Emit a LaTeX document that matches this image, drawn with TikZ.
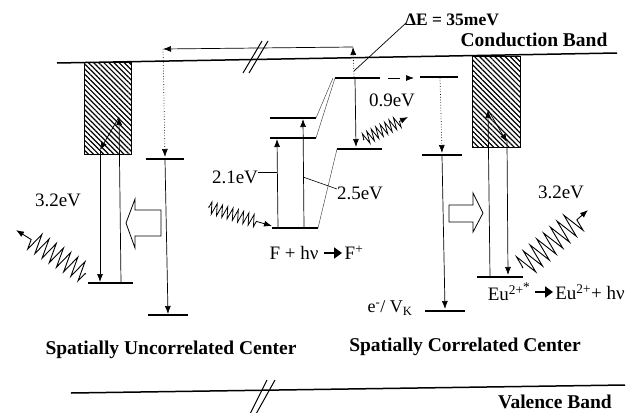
\documentclass[tikz,border=0pt]{standalone}
\usepackage{fontspec}
\setmainfont{Liberation Serif}
\usetikzlibrary{arrows.meta,patterns.meta,decorations.pathmorphing}
\begin{document}
\begin{tikzpicture}[x=1pt,y=-1pt,
  lvl/.style={line width=2.6pt},
  band/.style={line width=1.5pt},
  tr/.style={line width=0.7pt,-{Latex[length=8pt,width=6pt]}},
  dotl/.style={line width=0.7pt,dotted},
  thinl/.style={line width=0.45pt,black!75},
  lbl/.style={font=\fontsize{19}{22}\selectfont,inner sep=0pt},
  blbl/.style={font=\fontsize{19.5}{22}\selectfont\bfseries,inner sep=0pt},
  hatch/.style={draw,line width=0.8pt,pattern={Lines[angle=-45,distance=3.6pt,line width=1.2pt]}},
  hollow/.style={draw,line width=0.8pt,fill=white},
  brk/.style={line width=1pt},
  fat/.style={line width=2.4pt,-{Triangle[length=8pt,width=11pt]}},
  wave/.style={line width=0.9pt,decorate,-{Latex[length=8pt,width=6pt]}},
]
\useasboundingbox (0,0) rectangle (636,412);

% bands
\coordinate (cbL) at (57,63); \coordinate (cbR) at (617,53);
\coordinate (vbL) at (71,393); \coordinate (vbR) at (625,385);
\draw[band] (cbL) -- (cbR);
\draw[band] (vbL) -- (vbR);
\draw[brk] (243,73) -- (262,41);
\draw[brk] (249,73) -- (268,41);
\draw[brk] (250,414) -- (267,380);
\draw[brk] (256,414) -- (275,380);

\node[blbl] (cbt) at (534,40) {Conduction Band};
\node[blbl] (vbt) at (555,402) {Valence Band};

% ---- left: spatially uncorrelated
\draw[hatch] (84,62) rectangle (131,154);
\coordinate (L1a) at (88,283); \coordinate (L1b) at (133,283);
\coordinate (L2a) at (146,159); \coordinate (L2b) at (184,159);
\coordinate (L3a) at (148,315); \coordinate (L3b) at (188,315);
\draw[lvl] (L1a) -- (L1b);
\draw[lvl] (L2a) -- (L2b);
\draw[lvl] (L3a) -- (L3b);
\coordinate (lu0) at (121,283); \coordinate (lu1) at (119,117);
\coordinate (ld0) at (100,150); \coordinate (ld1) at (100,282);
\draw[tr] (lu0) -- (lu1);
\draw[tr] (lu1) -- (ld0);
\draw[tr] (ld0) -- (ld1);
\coordinate (topL) at (163,49); \coordinate (topR) at (353,47);
\coordinate (l2top) at (165,157);
\draw[dotl,-{Latex[length=8pt,width=6pt]}] (topL) -- (l2top);
\draw[tr] (165,160) -- (168,314);
\draw[hollow] (126,223) -- (135,199) -- (135,210) -- (161,210) -- (161,236) -- (135,236) -- (135,248) -- cycle;
\coordinate (lw0) at (86,274); \coordinate (lw1) at (16,230);
\draw[wave,decoration={zigzag,segment length=8.5pt,amplitude=10pt,pre length=1pt,post length=16pt}] (lw0) -- (lw1);
\node[lbl] (e32l) at (58,200) {3.2eV};
\node[blbl] (unc) at (171,350) {Spatially Uncorrelated Center};

% ---- center: F centre
\coordinate (F0a) at (272,228); \coordinate (F0b) at (318,228);
\coordinate (F1a) at (270,138); \coordinate (F1b) at (316,138);
\coordinate (F2a) at (270,118); \coordinate (F2b) at (316,118);
\draw[lvl] (F0a) -- (F0b);
\draw[lvl] (F1a) -- (F1b);
\draw[lvl] (F2a) -- (F2b);
\draw[tr] (278,228) -- (277,139);
\draw[tr] (304,228) -- (303,119);
\coordinate (C1a) at (335,78); \coordinate (C1b) at (380,78);
\coordinate (C5a) at (337,149); \coordinate (C5b) at (382,149);
\draw[lvl] (C1a) -- (C1b);
\draw[lvl] (C5a) -- (C5b);
\draw[thinl] (F2b) -- (333,78);
\draw[thinl] (F1b) -- (C1a);
\draw[thinl] (F0b) -- (C5a);
\draw[tr] (355,79) -- (356,147);
\draw[dotl,-{Latex[length=8pt,width=6pt]}] (354,77) -- (topR);
\draw[tr] (topR) -- (topL);
\draw[line width=0.7pt] (354,71) -- (406,23);
\node[blbl,font=\fontsize{17.5}{20}\selectfont\bfseries] (de) at (452,20) {ΔE = 35meV};
\draw[line width=0.7pt,dash pattern=on 12pt off 6pt,-{Latex[length=8pt,width=6pt]}] (388,78) -- (414,78);
\node[lbl] (e21) at (235,177) {2.1eV};
\draw[line width=0.6pt] (258,172) -- (277,172);
\node[lbl] (e25) at (360,193) {2.5eV};
\draw[line width=0.6pt] (303,177) -- (337,189);
\node[lbl] (e09) at (392,100) {0.9eV};
\coordinate (cw0) at (208,207); \coordinate (cw1) at (272,226);
\draw[wave,line width=0.8pt,decoration={zigzag,segment length=5.5pt,amplitude=6pt,pre length=1pt,post length=15pt}] (cw0) -- (cw1);
\coordinate (nw0) at (363,140); \coordinate (nw1) at (408,117);
\draw[wave,line width=0.8pt,decoration={zigzag,segment length=5pt,amplitude=6pt,pre length=1pt,post length=9pt}] (nw0) -- (nw1);
\node[lbl] (fl) at (294,253) {F + hν};
\node[lbl] (fr) at (354,253) {F\textsuperscript{+}};
\draw[fat] (324,253) -- (342,253);

% ---- right: spatially correlated
\coordinate (C2a) at (420,77); \coordinate (C2b) at (458,77);
\coordinate (C3a) at (422,155); \coordinate (C3b) at (462,155);
\coordinate (C4a) at (425,311); \coordinate (C4b) at (465,311);
\draw[lvl] (C2a) -- (C2b);
\draw[lvl] (C3a) -- (C3b);
\draw[lvl] (C4a) -- (C4b);
\draw[dotl,-{Latex[length=8pt,width=6pt]}] (440,78) -- (442,153);
\draw[tr] (442,156) -- (445,309);
\node[lbl,font=\fontsize{18}{20}\selectfont] (ev) at (390,308) {e\textsuperscript{-}/ V\textsubscript{K}};
\draw[hatch] (472,56) rectangle (520,147);
\coordinate (E1a) at (477,277); \coordinate (E1b) at (523,277);
\draw[lvl] (E1a) -- (E1b);
\coordinate (ru0) at (490,277); \coordinate (ru1) at (488,110);
\coordinate (rd0) at (507,142); \coordinate (rd1) at (508,275);
\draw[tr] (ru0) -- (ru1);
\draw[tr] (ru1) -- (rd0);
\draw[tr] (rd0) -- (rd1);
\draw[hollow] (449,205) -- (473,205) -- (473,193) -- (483,213) -- (473,232) -- (473,222) -- (449,222) -- cycle;
\coordinate (rw0) at (522,268); \coordinate (rw1) at (588,210);
\draw[wave,decoration={zigzag,segment length=9pt,amplitude=12pt,pre length=1pt,post length=14pt}] (rw0) -- (rw1);
\node[lbl] (e32r) at (561,192) {3.2eV};
\node[lbl] (eul) at (509,292) {Eu\textsuperscript{2+\raisebox{0.5ex}{*}}};
\node[lbl] (eur) at (590,292) {Eu\textsuperscript{2+}+ hν};
\draw[fat] (535,292) -- (553,292);
\node[blbl] (cor) at (465,347) {Spatially Correlated Center};
\end{tikzpicture}
\end{document}
